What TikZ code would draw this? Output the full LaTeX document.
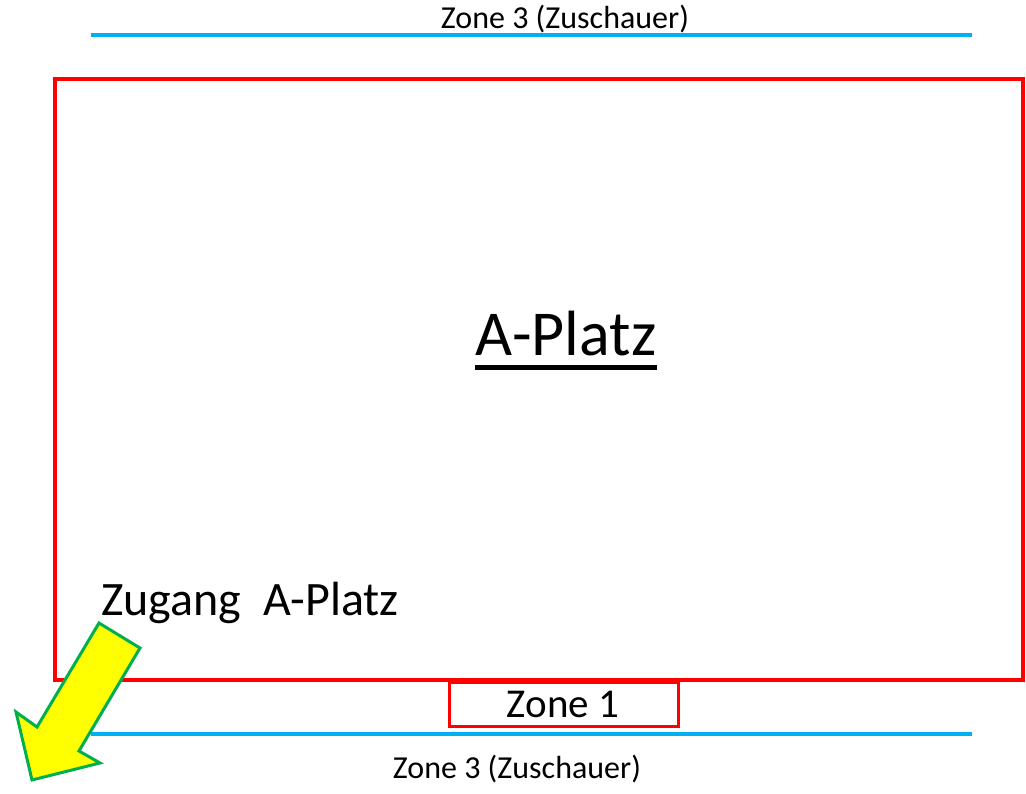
\documentclass[tikz,border=0pt]{standalone}
\usepackage{fontspec}
\setmainfont{Carlito}
\definecolor{zred}{HTML}{FF0000}
\definecolor{zblue}{HTML}{00B0F0}
\definecolor{zyellow}{HTML}{FFFF00}
\definecolor{zgreen}{HTML}{00B050}
\tikzset{
  zoneline/.style={draw=zblue, line width=3.5pt},
  platzbox/.style={draw=zred, line width=4pt},
  zonebox/.style={draw=zred, line width=3pt},
  lbl/.style={inner sep=0pt, anchor=base, text=black},
  arrowshape/.style={fill=zyellow, draw=zgreen, line width=3pt, line join=miter},
}
\begin{document}
\begin{tikzpicture}[x=1pt, y=-1pt]
\useasboundingbox (0,0) rectangle (1026,793);
% blue zone lines
\coordinate (tl) at (91,35);
\coordinate (tr) at (972,35);
\coordinate (bl) at (91,734);
\coordinate (br) at (972,734);
\draw[zoneline] (tl) -- (tr);
\draw[zoneline] (bl) -- (br);
% main field
\node[platzbox, minimum width=968pt, minimum height=601pt, inner sep=0pt] (platz) at (539,379.5) {};
% zone 1 box
\node[zonebox, minimum width=229pt, minimum height=44pt, inner sep=0pt] (zone1) at (563.5,704) {};
% labels
\node[lbl, font=\fontsize{32}{38}\selectfont] (top) at (565,28) {Zone 3 (Zuschauer)};
\node[lbl, font=\fontsize{32}{38}\selectfont] (bottom) at (517,778) {Zone 3 (Zuschauer)};
\node[lbl, font=\fontsize{41}{49}\selectfont] (z1) at (563,717) {Zone 1};
\node[lbl, font=\fontsize{64}{76}\selectfont] (ap) at (566,355) {A-Platz};
\draw[line width=5pt] ([yshift=-12pt]ap.base west) -- ([yshift=-12pt]ap.base east);
\node[lbl, anchor=base west, font=\fontsize{48}{57}\selectfont] (zug) at (101,615) {Zugang\ \ A-Platz};
% access arrow
\draw[arrowshape] (99,623) -- (140,648) -- (79,751) -- (100,763) -- (32,780) -- (16,712) -- (37,727) -- cycle;
\end{tikzpicture}
\end{document}
